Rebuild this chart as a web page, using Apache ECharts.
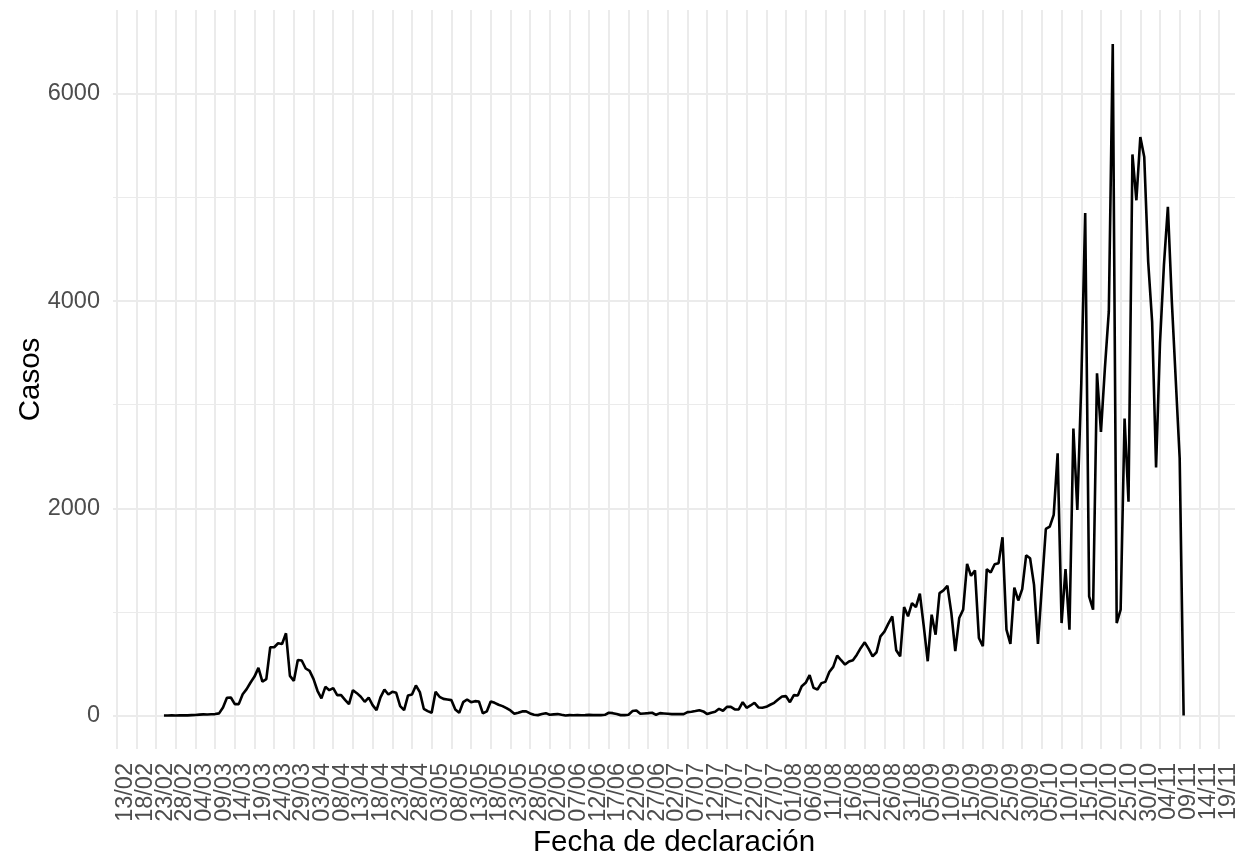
<!DOCTYPE html>
<html>
<head>
<meta charset="utf-8">
<script src="https://cdn.jsdelivr.net/npm/echarts@6/dist/echarts.min.js"></script>
<style>
html,body{margin:0;padding:0;background:#fff;}
#chart{width:1244px;height:863px;}
</style>
</head>
<body>
<div id="chart"></div>
<script>
// ---------- data ----------
const year = 2020;
const originLabel = '13/02';
const firstDate = '25/02';
const casesFeb = [0, 0, 1, 0, 1];
const casesMar = [2, 1, 3, 4, 8, 10, 9, 11, 13, 20, 77, 170, 173, 109, 109, 205, 254, 318, 375, 459,
  327, 350, 658, 658, 697, 690, 793, 382, 334, 536, 530];
const casesApr = [453, 430, 350, 238, 164, 276, 244, 263, 196, 196, 151, 109, 244, 215, 180, 132, 173, 100, 51, 175,
  250, 202, 228, 218, 90, 51, 193, 202, 289, 225];
const casesMay = [64, 42, 26, 228, 180, 160, 154, 148, 58, 26, 128, 154, 128, 138, 135, 19, 39, 135, 122, 103,
  90, 71, 48, 16, 26, 39, 39, 19, 6, 3, 13];
const casesJun = [22, 6, 10, 13, 6, 0, 3, 2, 4, 2, 3, 5, 3, 3, 3, 6, 26, 22, 13, 3,
  3, 6, 42, 48, 16, 19, 22, 26, 6, 22];
const casesJul = [19, 16, 13, 13, 13, 13, 32, 35, 42, 51, 39, 13, 26, 35, 64, 45, 83, 83, 58, 58,
  128, 74, 96, 122, 77, 74, 83, 103, 122, 154, 183];
const casesAug = [186, 128, 196, 193, 282, 315, 389, 266, 250, 312, 324, 420, 469, 578, 533, 491, 520, 533, 587, 652,
  706, 642, 571, 610, 764, 809, 886, 957, 629, 571, 1046];
const casesSep = [957, 1085, 1046, 1175, 860, 523, 973, 780, 1181, 1207, 1252, 990, 620, 940, 1021, 1464, 1348, 1400, 748, 668,
  1412, 1380, 1460, 1470, 1720, 828, 690, 1235, 1110, 1220];
const casesOct = [1545, 1518, 1260, 690, 1250, 1800, 1823, 1936, 2530, 892, 1412, 828, 2770, 1984, 3200, 4851, 1150, 1021, 3303, 2738,
  3350, 3900, 6481, 892, 1021, 2866, 2064, 5416, 4973, 5583, 5390];
const casesNov = [4380, 3800, 2395, 3600, 4350, 4910, 4000, 3240, 2480, 0];

const xTickLabels = ['13/02','18/02','23/02','28/02','04/03','09/03','14/03','19/03','24/03','29/03',
  '03/04','08/04','13/04','18/04','23/04','28/04','03/05','08/05','13/05','18/05','23/05','28/05',
  '02/06','07/06','12/06','17/06','22/06','27/06','02/07','07/07','12/07','17/07','22/07','27/07',
  '01/08','06/08','11/08','16/08','21/08','26/08','31/08','05/09','10/09','15/09','20/09','25/09',
  '30/09','05/10','10/10','15/10','20/10','25/10','30/10','04/11','09/11','14/11','19/11'];
const yTicks = [0, 2000, 4000, 6000];
const yMinorTicks = [1000, 3000, 5000];

const xTitle = 'Fecha de declaración';
const yTitle = 'Casos';

// axis limits (in days since origin / case counts)
const xMin = -0.94, xMax = 284.05;
const yMin = -324, yMax = 6810;

// ---------- build ----------
const DAY = 86400000;
function toUTC(ddmm) { const p = ddmm.split('/').map(Number); return Date.UTC(year, p[1] - 1, p[0]); }
function dayOf(ddmm) { return Math.round((toUTC(ddmm) - toUTC(originLabel)) / DAY); }

const cases = [].concat(casesFeb, casesMar, casesApr, casesMay, casesJun, casesJul, casesAug, casesSep, casesOct, casesNov);
const start = dayOf(firstDate);
const seriesData = cases.map((v, i) => [start + i, v]);
const xTickValues = xTickLabels.map(dayOf);
const xTickEven = xTickValues.filter((v, i) => i % 2 === 0);
const xTickOdd = xTickValues.filter((v, i) => i % 2 === 1);
const labelByDay = {};
xTickLabels.forEach((l) => { labelByDay[dayOf(l)] = l; });

const FONT = "'Liberation Sans', Arial, sans-serif";
const xLabelStyle = {
  showMinLabel: true,
  showMaxLabel: true,
  hideOverlap: false,
  rotate: 90,
  margin: 14,
  verticalAlign: 'top',
  lineHeight: 18,
  color: '#4D4D4D',
  fontSize: 23.5,
  fontFamily: FONT,
  formatter: (v) => labelByDay[Math.round(v)] || ''
};

const chart = echarts.init(document.getElementById('chart'), null, { renderer: 'canvas' });
chart.setOption({
  animation: false,
  backgroundColor: '#ffffff',
  grid: { left: 113, right: 9, top: 10, bottom: 113, containLabel: false },
  xAxis: [
    {
      type: 'value',
      position: 'bottom',
      min: xMin, max: xMax,
      name: xTitle,
      nameLocation: 'middle',
      nameGap: 79,
      nameMoveOverlap: false,
      nameTextStyle: { color: '#000000', fontSize: 29.5, fontFamily: FONT },
      axisLine: { show: false },
      axisTick: { show: false, customValues: xTickValues },
      axisLabel: Object.assign({ customValues: xTickEven }, xLabelStyle),
      splitLine: { show: true, lineStyle: { color: '#EBEBEB', width: 2 } }
    },
    {
      type: 'value',
      position: 'bottom',
      offset: 0,
      min: xMin, max: xMax,
      axisLine: { show: false },
      axisTick: { show: false, customValues: xTickOdd },
      axisLabel: Object.assign({ customValues: xTickOdd }, xLabelStyle),
      splitLine: { show: false }
    }
  ],
  yAxis: [
    {
      type: 'value',
      min: yMin, max: yMax,
      name: yTitle,
      nameLocation: 'middle',
      nameGap: 67,
      nameMoveOverlap: false,
      nameTextStyle: { color: '#000000', fontSize: 29.5, fontFamily: FONT },
      axisLine: { show: false },
      axisTick: { show: false, customValues: yTicks },
      axisLabel: {
        customValues: yTicks,
        showMinLabel: true,
        showMaxLabel: true,
        margin: 13,
        color: '#4D4D4D',
        fontSize: 23.5,
        fontFamily: FONT,
        formatter: (v) => String(Math.round(v))
      },
      splitLine: { show: true, lineStyle: { color: '#EBEBEB', width: 2 } }
    },
    {
      type: 'value',
      min: yMin, max: yMax,
      position: 'left',
      axisLine: { show: false },
      axisTick: { show: false, customValues: yMinorTicks },
      axisLabel: { show: false, customValues: yMinorTicks },
      splitLine: { show: true, lineStyle: { color: '#EBEBEB', width: 1 } }
    }
  ],
  series: [{
    type: 'line',
    data: seriesData,
    xAxisIndex: 0,
    yAxisIndex: 0,
    showSymbol: false,
    symbol: 'none',
    lineStyle: { color: '#000000', width: 2.6 },
    z: 5
  }]
});
</script>
</body>
</html>
